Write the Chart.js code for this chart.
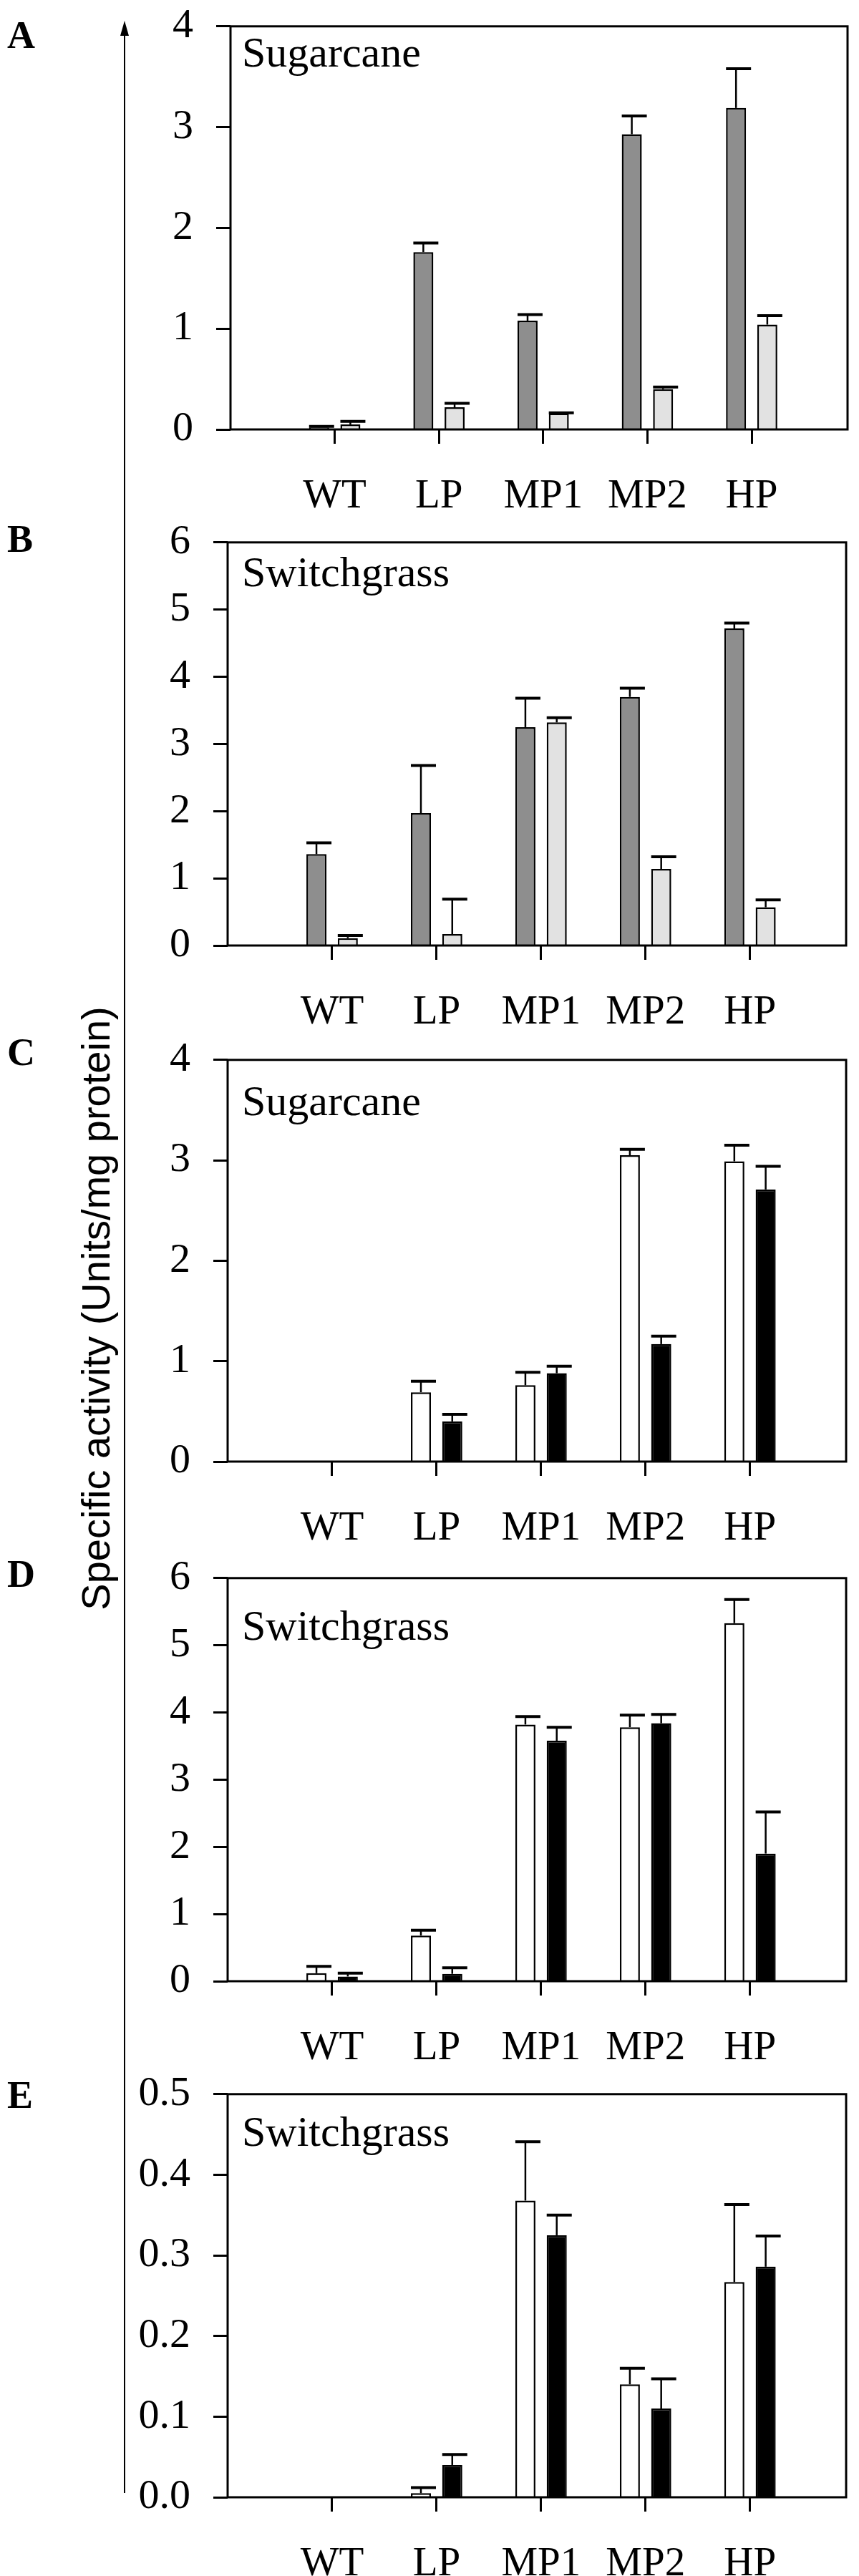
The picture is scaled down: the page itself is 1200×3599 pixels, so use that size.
<!DOCTYPE html>
<html>
<head>
<meta charset="utf-8">
<script src="https://cdn.jsdelivr.net/npm/chart.js@4.4.0/dist/chart.umd.min.js"></script>
<style>
  html, body { margin: 0; padding: 0; background: #fff; }
  body { width: 1200px; height: 3599px; position: relative; overflow: hidden; }
  .panel { position: absolute; left: 0; width: 1200px; }
  .letter { position: absolute; left: 10px; font: bold 54px "Liberation Serif", serif; line-height: 54px; color: #000; }
  #ytitle { position: absolute; left: 133px; top: 1828px; font: 56px "Liberation Sans", sans-serif; color: #000;
            white-space: nowrap; transform: translate(-50%, -50%) rotate(-90deg); }
  #arrow { position: absolute; left: 0; top: 0; }
</style>
</head>
<body>
<svg id="arrow" width="1200" height="3599">
  <line x1="174" y1="3483" x2="174" y2="45" stroke="#000" stroke-width="2"/>
  <polygon points="174,29 168,50 180,50" fill="#000"/>
</svg>
<div id="ytitle">Specific activity (Units/mg protein)</div>

<script>
const categories = ["WT", "LP", "MP1", "MP2", "HP"];

// A - sugarcane (gray bars)
const a_dark = [0.02, 1.76, 1.08, 2.93, 3.19];
const a_dark_err = [0.01, 0.09, 0.06, 0.18, 0.39];
const a_light = [0.05, 0.22, 0.16, 0.40, 1.04];
const a_light_err = [0.03, 0.04, 0.005, 0.02, 0.09];

// B - switchgrass (gray bars)
const b_dark = [1.36, 1.97, 3.25, 3.70, 4.72];
const b_dark_err = [0.17, 0.71, 0.43, 0.13, 0.08];
const b_light = [0.11, 0.17, 3.32, 1.14, 0.57];
const b_light_err = [0.04, 0.52, 0.07, 0.18, 0.11];

// C - sugarcane (white / black bars)
const c_white = [null, 0.69, 0.76, 3.05, 2.99];
const c_white_err = [0, 0.11, 0.13, 0.06, 0.16];
const c_black = [null, 0.40, 0.88, 1.17, 2.71];
const c_black_err = [0, 0.07, 0.07, 0.08, 0.23];

// D - switchgrass (white / black bars)
const d_white = [0.12, 0.68, 3.82, 3.78, 5.33];
const d_white_err = [0.10, 0.08, 0.12, 0.18, 0.35];
const d_black = [0.07, 0.11, 3.58, 3.84, 1.90];
const d_black_err = [0.05, 0.09, 0.20, 0.13, 0.62];

// E - switchgrass (white / black bars)
const e_white = [null, 0.005, 0.368, 0.14, 0.267];
const e_white_err = [0, 0.007, 0.073, 0.02, 0.096];
const e_black = [null, 0.040, 0.325, 0.11, 0.286];
const e_black_err = [0, 0.013, 0.025, 0.037, 0.038];

const serif = "'Liberation Serif', 'Times New Roman', serif";

const error_bars = {
    id: "error_bars",
    afterDatasetsDraw(chart) {
        const ctx = chart.ctx;
        const y = chart.scales.y;
        ctx.save();
        ctx.strokeStyle = "#000";
        chart.data.datasets.forEach((ds, i) => {
            const meta = chart.getDatasetMeta(i);
            meta.data.forEach((bar, j) => {
                const v = ds.data[j].y;
                const e = ds.errors[j];
                if (v == null || !e) return;
                const top = y.getPixelForValue(v + e);
                ctx.lineWidth = 2.5;
                ctx.beginPath();
                ctx.moveTo(bar.x, bar.y);
                ctx.lineTo(bar.x, top);
                ctx.stroke();
                ctx.lineWidth = 4;
                ctx.beginPath();
                ctx.moveTo(bar.x - bar.width / 2, top);
                ctx.lineTo(bar.x + bar.width / 2 + 7, top);
                ctx.stroke();
            });
        });
        ctx.restore();
    }
};

const frame_and_title = {
    id: "frame_and_title",
    afterDraw(chart, args, opts) {
        const ctx = chart.ctx;
        const a = chart.chartArea;
        ctx.save();
        ctx.strokeStyle = "#000";
        ctx.lineWidth = 3;
        ctx.strokeRect(a.left, a.top, a.right - a.left, a.bottom - a.top);
        ctx.fillStyle = "#000";
        ctx.font = "60px " + serif;
        ctx.textBaseline = "alphabetic";
        ctx.fillText(opts.text, opts.x, a.top + opts.dy);
        ctx.restore();
    }
};

function set_panel(p) {
    const pad_top = 50, axis_h = 130;
    const div = document.createElement("div");
    div.className = "panel";
    div.style.top = (p.top - pad_top) + "px";
    div.style.height = (p.zero - p.top + pad_top + axis_h) + "px";
    const canvas = document.createElement("canvas");
    div.appendChild(canvas);
    document.body.appendChild(div);

    const letter = document.createElement("div");
    letter.className = "letter";
    letter.textContent = p.letter;
    letter.style.top = p.letter_y + "px";
    document.body.appendChild(letter);

    const chart = new Chart(canvas, {
        type: "bar",
        data: {
            datasets: p.series.map((s) => ({
                data: s.values.map((v, i) => ({ x: i + 1, y: v })),
                errors: s.errors,
                backgroundColor: s.color,
                borderColor: "#000",
                borderWidth: 2.5,
                categoryPercentage: 0.6,
                barPercentage: 0.64
            }))
        },
        options: {
            responsive: true,
            maintainAspectRatio: false,
            animation: false,
            layout: { padding: { top: pad_top, right: 1200 - p.right, left: 0, bottom: 0 } },
            plugins: {
                legend: { display: false },
                tooltip: { enabled: false },
                frame_and_title: { text: p.title, x: 338, dy: p.title_dy }
            },
            scales: {
                x: {
                    type: "linear",
                    offset: false,
                    min: 0,
                    max: 5.92,
                    afterBuildTicks: (scale) => { scale.ticks = categories.map((c, i) => ({ value: i + 1 })); },
                    afterFit: (scale) => { scale.height = axis_h; },
                    grid: { offset: false, drawOnChartArea: false, tickLength: 20, tickWidth: 3, tickColor: "#000" },
                    border: { display: false },
                    ticks: {
                        color: "#000",
                        padding: 40,
                        maxRotation: 0,
                        font: { family: serif, size: 57 },
                        callback: (value) => categories[value - 1]
                    }
                },
                y: {
                    min: 0,
                    max: p.max,
                    afterFit: (scale) => { scale.width = p.left; },
                    grid: { drawOnChartArea: false, tickLength: 20, tickWidth: 3, tickColor: "#000" },
                    border: { display: false },
                    ticks: {
                        color: "#000",
                        padding: 32,
                        stepSize: p.step,
                        font: { family: serif, size: 58 },
                        callback: (value) => value.toFixed(p.decimals)
                    }
                }
            }
        },
        plugins: [error_bars, frame_and_title]
    });
    return chart;
}

const gray = "#8e8e8e", light = "#e2e2e2", white = "#ffffff", black = "#000000";

set_panel({ letter: "A", letter_y: 22, title: "Sugarcane", title_dy: 56, top: 20, zero: 600, left: 322, right: 1184, max: 4, step: 1, decimals: 0,
    series: [{ values: a_dark, errors: a_dark_err, color: gray }, { values: a_light, errors: a_light_err, color: light }] });
set_panel({ letter: "B", letter_y: 726, title: "Switchgrass", title_dy: 61, top: 741, zero: 1321, left: 318, right: 1182, max: 6, step: 1, decimals: 0,
    series: [{ values: b_dark, errors: b_dark_err, color: gray }, { values: b_light, errors: b_light_err, color: light }] });
set_panel({ letter: "C", letter_y: 1443, title: "Sugarcane", title_dy: 77, top: 1464, zero: 2042, left: 318, right: 1182, max: 4, step: 1, decimals: 0,
    series: [{ values: c_white, errors: c_white_err, color: white }, { values: c_black, errors: c_black_err, color: black }] });
set_panel({ letter: "D", letter_y: 2172, title: "Switchgrass", title_dy: 86, top: 2188, zero: 2768, left: 318, right: 1182, max: 6, step: 1, decimals: 0,
    series: [{ values: d_white, errors: d_white_err, color: white }, { values: d_black, errors: d_black_err, color: black }] });
set_panel({ letter: "E", letter_y: 2900, title: "Switchgrass", title_dy: 72, top: 2909, zero: 3489, left: 318, right: 1182, max: 0.5, step: 0.1, decimals: 1,
    series: [{ values: e_white, errors: e_white_err, color: white }, { values: e_black, errors: e_black_err, color: black }] });
</script>
</body>
</html>
